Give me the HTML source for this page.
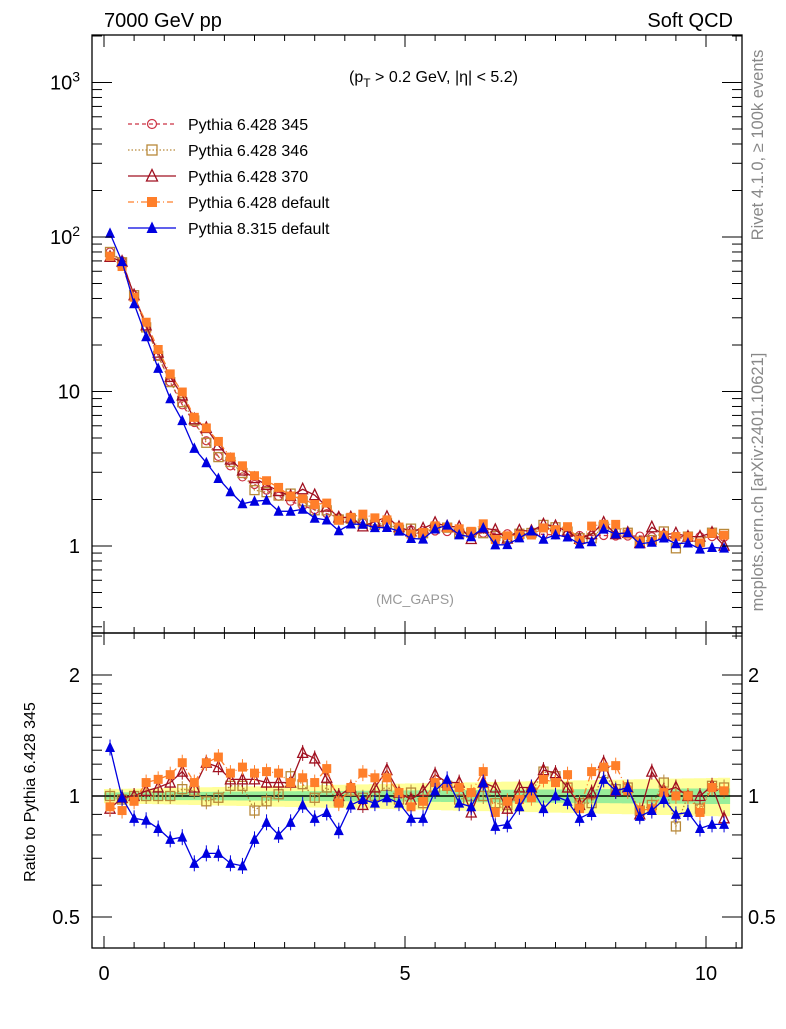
<!DOCTYPE html>
<html><head><meta charset="utf-8"><style>
body{margin:0;background:#fff;}
svg text{font-family:"Liberation Sans",sans-serif;}
</style></head><body>
<svg id="chart" width="786" height="1024" xmlns="http://www.w3.org/2000/svg">
<g id="bands"></g><g id="series"></g><g id="axes"></g>
</svg>
<script>
const xCenters = [0.1,0.3,0.5,0.7,0.9,1.1,1.3,1.5,1.7,1.9,2.1,2.3,2.5,2.7,2.9,3.1,3.3,3.5,3.7,3.9,4.1,4.3,4.5,4.7,4.9,5.1,5.3,5.5,5.7,5.9,6.1,6.3,6.5,6.7,6.9,7.1,7.3,7.5,7.7,7.9,8.1,8.3,8.5,8.7,8.9,9.1,9.3,9.5,9.7,9.9,10.1,10.3];
const base345 = [80,70,42,26,17,11.5,8.2,6.3,4.8,3.8,3.3,2.8,2.5,2.3,2.1,1.95,1.82,1.72,1.62,1.53,1.46,1.41,1.37,1.33,1.3,1.27,1.26,1.25,1.24,1.23,1.22,1.21,1.21,1.2,1.2,1.19,1.19,1.18,1.18,1.17,1.17,1.17,1.16,1.16,1.16,1.15,1.15,1.15,1.15,1.15,1.15,1.14];
const ratio346 = [1.0,0.98,1.0,1.0,1.0,1.0,1.04,1.03,0.97,0.99,1.06,1.06,0.92,0.97,1.01,1.12,1.07,0.99,1.05,0.97,1.03,0.99,1.0,1.06,0.98,1.02,0.96,1.05,1.06,0.98,1.0,1.0,0.96,0.95,1.0,1.02,1.15,1.12,1.05,0.96,0.96,1.14,1.04,1.05,0.92,0.95,1.08,0.84,1.0,0.93,1.06,1.05];
const ratio370 = [0.93,0.99,1.0,1.03,1.05,1.08,1.15,1.05,1.21,1.18,1.10,1.10,1.10,1.08,1.08,1.08,1.28,1.24,1.11,1.0,1.05,0.95,1.05,1.16,1.02,0.98,1.03,1.13,1.08,1.08,0.91,1.08,1.05,0.93,1.05,1.05,1.16,1.14,1.05,0.95,1.02,1.21,1.03,1.05,0.90,1.15,1.03,1.05,1.0,1.0,1.06,0.88];
const ratioP6def = [0.94,0.92,0.97,1.08,1.10,1.13,1.21,1.08,1.21,1.25,1.14,1.18,1.14,1.15,1.14,1.08,1.11,1.08,1.17,0.96,1.05,1.14,1.11,1.11,1.02,0.94,0.97,1.08,1.06,1.05,1.02,1.15,0.91,0.97,0.98,0.99,1.10,1.08,1.13,0.93,1.15,1.18,1.19,1.03,0.92,0.93,1.02,1.0,1.0,0.91,1.05,1.03];
const ratioP8 = [1.32,0.99,0.88,0.87,0.83,0.78,0.79,0.68,0.72,0.72,0.68,0.67,0.78,0.86,0.80,0.86,0.95,0.88,0.91,0.82,0.95,0.98,0.96,0.99,0.96,0.88,0.88,1.03,1.10,0.96,0.94,1.08,0.84,0.85,0.94,1.05,0.93,1.0,0.97,0.88,0.91,1.10,1.03,1.05,0.89,0.92,0.98,0.90,0.91,0.83,0.85,0.85];
const xTicks = [0,5,10];
const mainTicks = [1,10,100,1000];
const ratioTicks = [0.5,1,2];

const NS="http://www.w3.org/2000/svg";
const X0=92,X1=742,T=35,MB=633,RB=948;
const sx=v=>104+v*60.2;
const sy=v=>546-Math.log10(v)*154.5;
const sr=v=>796-Math.log2(v)*121;
function mk(tag,attrs,parent){const e=document.createElementNS(NS,tag);for(const k in attrs)e.setAttribute(k,attrs[k]);parent.appendChild(e);return e;}
const gB=document.getElementById('bands'),gS=document.getElementById('series'),gA=document.getElementById('axes');

function band(w0,w1,col,name){
  let up=[],dn=[];
  for(const x of xCenters){const w=w0+(w1-w0)*x/10.3;up.push(sx(x-0.1)+','+sr(1+w));up.push(sx(x+0.1)+','+sr(1+w));dn.unshift(sx(x-0.1)+','+sr(1-w));dn.unshift(sx(x+0.1)+','+sr(1-w));}
  const p=mk('polygon',{points:up.concat(dn).join(' '),fill:col},gB);
  
  
}
band(0.04,0.11,'#ffff99','uncertainty-band-yellow');
band(0.02,0.045,'#99ee99','uncertainty-band-green');
const ref=mk('line',{x1:X0,x2:X1,y1:sr(1),y2:sr(1),stroke:'#000','stroke-width':1.5},gB);



const series=[
 {name:'pythia-6428-345',ratio:xCenters.map(()=>1),col:'#cc3344',dash:'4,3',m:'circle',main:true},
 {name:'pythia-6428-346',ratio:ratio346,col:'#b8893a',dash:'1.5,2',m:'square'},
 {name:'pythia-6428-370',ratio:ratio370,col:'#a01020',dash:'',m:'tri'},
 {name:'pythia-6428-default',ratio:ratioP6def,col:'#ff7f2a',dash:'6,3,1,3',m:'fsquare'},
 {name:'pythia-8315-default',ratio:ratioP8,col:'#0000e0',dash:'',m:'ftri'}
];
function marker(kind,x,y,col,parent,s){
  s=s||5;
  if(kind==='circle')return mk('circle',{cx:x,cy:y,r:s-0.5,fill:'none',stroke:col,'stroke-width':1.2},parent);
  if(kind==='square')return mk('rect',{x:x-s,y:y-s,width:2*s,height:2*s,fill:'none',stroke:col,'stroke-width':1.3},parent);
  if(kind==='fsquare')return mk('rect',{x:x-s,y:y-s,width:2*s,height:2*s,fill:col},parent);
  const pts=`${x},${y-s-1.5} ${x-s-0.5},${y+s} ${x+s+0.5},${y+s}`;
  if(kind==='tri')return mk('polygon',{points:pts,fill:'none',stroke:col,'stroke-width':1.3},parent);
  return mk('polygon',{points:pts,fill:col},parent);
}
series.forEach(s=>{
  const g=mk('g',{},gS);
  
  
  const mainPts=xCenters.map((x,i)=>[sx(x),sy(base345[i]*s.ratio[i])]);
  const ratPts=xCenters.map((x,i)=>[sx(x),sr(s.ratio[i])]);
  [mainPts,ratPts].forEach((pts,k)=>{
    if(k===1&&s.main)return;
    const pl=mk('polyline',{points:pts.map(p=>p.join(',')).join(' '),fill:'none',stroke:s.col,'stroke-width':1.3,'stroke-dasharray':s.dash},g);
    
    
    pts.forEach(p=>{
      if(k===1)mk('line',{x1:p[0],x2:p[0],y1:p[1]-8,y2:p[1]+8,stroke:s.col,'stroke-width':1},g);
      const m=marker(s.m,p[0],p[1],s.col,g,4.5);
      
      
    });
  });
});

[[T,MB],[MB,RB]].forEach((f,i)=>{
  const r=mk('rect',{x:X0,y:f[0],width:X1-X0,height:f[1]-f[0],fill:'none',stroke:'#000','stroke-width':1.3},gA);
  
  
});
function txt(s,x,y,size,anchor,name,extra){
  const t=mk('text',Object.assign({x:x,y:y,'font-size':size,'text-anchor':anchor||'start'},extra||{}),gA);
  t.textContent=s;
  
  
  return t;
}
for(let v=0;v<=10.5;v+=0.5){
  const L=(v%5===0)?12:6;
  [[T,1],[MB,-1],[MB,1],[RB,-1]].forEach(([y,d])=>mk('line',{x1:sx(v),x2:sx(v),y1:y,y2:y+d*L,stroke:'#000'},gA));
}
xTicks.forEach(v=>txt(String(v),sx(v),980,20,'middle','x-tick-label'));
for(let d=-1;d<=3;d++)for(let m=1;m<10;m++){
  const v=m*Math.pow(10,d);const y=sy(v);if(y<T||y>MB)continue;
  const L=m===1?20:10;
  mk('line',{x1:X0,x2:X0+L,y1:y,y2:y,stroke:'#000'},gA);
  mk('line',{x1:X1,x2:X1-L,y1:y,y2:y,stroke:'#000'},gA);
}
mainTicks.forEach(v=>{
  const y=sy(v)+7;
  if(v>=100){const t=txt('10',80,y,20,'end','y-tick-label');const s=mk('tspan',{dy:-8,'font-size':14},t);s.textContent=String(Math.log10(v));}
  else txt(String(v),80,y,20,'end','y-tick-label');
});
[0.5,0.6,0.7,0.8,0.9,1,1.1,1.2,1.3,1.4,1.5,1.6,1.7,1.8,1.9,2,2.5].forEach(v=>{
  const y=sr(v);const L=(v===0.5||v===1||v===2)?20:10;
  mk('line',{x1:X0,x2:X0+L,y1:y,y2:y,stroke:'#000'},gA);
  mk('line',{x1:X1,x2:X1-L,y1:y,y2:y,stroke:'#000'},gA);
});
ratioTicks.forEach(v=>{
  txt(String(v),80,sr(v)+7,20,'end','ratio-tick-label-left');
  txt(String(v),748,sr(v)+7,20,'start','ratio-tick-label-right');
});
txt('7000 GeV pp',104,27,20,'start','beam-label');
txt('Soft QCD',733,27,20,'end','process-label');
const cut=txt('(p',349,82,16,'start','cuts-label');
let ts=mk('tspan',{dy:5,'font-size':12},cut);ts.textContent='T';
ts=mk('tspan',{dy:-5},cut);ts.textContent=' > 0.2 GeV, |η| < 5.2)';
txt('(MC_GAPS)',415,604,14,'middle','analysis-label',{fill:'#999'});
txt('Rivet 4.1.0, ≥ 100k events',0,0,16.5,'middle','rivet-label',{fill:'#888',transform:'translate(763,145) rotate(-90)'});
txt('mcplots.cern.ch [arXiv:2401.10621]',0,0,16.5,'middle','mcplots-label',{fill:'#888',transform:'translate(763,482) rotate(-90)'});
txt('Ratio to Pythia 6.428 345',0,0,16,'middle','ratio-y-title',{transform:'translate(35,792) rotate(-90)'});
const labels=['Pythia 6.428 345','Pythia 6.428 346','Pythia 6.428 370','Pythia 6.428 default','Pythia 8.315 default'];
const lys=[124,150,176,202,228];
series.forEach((s,i)=>{
  const g=mk('g',{},gA);
  
  
  mk('line',{x1:128,x2:176,y1:lys[i],y2:lys[i],stroke:s.col,'stroke-width':1.3,'stroke-dasharray':s.dash},g);
  marker(s.m,152,lys[i],s.col,g,5);
  const t=mk('text',{x:188,y:lys[i]+6,'font-size':16},g);t.textContent=labels[i];
});
</script>
</body></html>
